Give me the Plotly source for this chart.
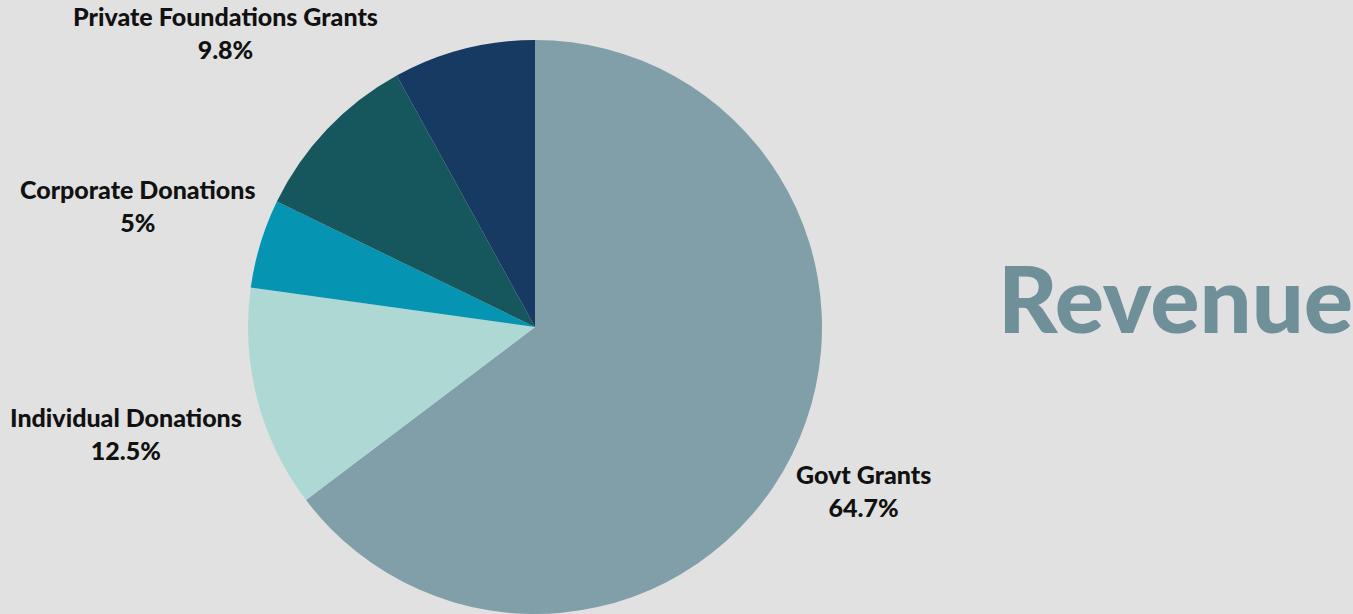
import math
import plotly.graph_objects as go

# ---- data ----
categories = ["Govt Grants", "Individual Donations", "Corporate Donations",
              "Private Foundations Grants", "Other"]
values = [64.7, 12.5, 5.0, 9.8, 8.0]
pct_labels = ["64.7%", "12.5%", "5%", "9.8%", ""]
show_label = [True, True, True, True, False]
colors = ["#819fa8", "#aed8d3", "#0595b2", "#16575e", "#173a63"]
title_text = "Revenue"

# ---- layout geometry ----
W, H = 1353, 614
cx, cy = 535, 327          # pie centre (px, from top-left)
R = 287                    # pie radius (px)
BG = "#e1e1e1"
FONT = "Lato Black, Lato Heavy, Lato, sans-serif"
LABEL_SIZE = 25

fig = go.Figure(go.Pie(
    labels=categories,
    values=values,
    marker=dict(colors=colors, line=dict(width=0)),
    sort=False,
    direction="clockwise",
    rotation=0,
    textinfo="none",
    hoverinfo="label+percent",
    showlegend=False,
    domain=dict(x=[(cx - R) / W, (cx + R) / W],
                y=[(H - cy - R) / H, (H - cy + R) / H]),
))

# labels placed radially outside each slice (computed from the data)
total = sum(values)
cum = 0.0
annotations = []
for name, v, pct, show in zip(categories, values, pct_labels, show_label):
    mid = (cum + v / 2) / total * 2 * math.pi
    cum += v
    if not show:
        continue
    sx, sy = math.sin(mid), math.cos(mid)          # sy positive = up
    half_w = max(len(name), len(pct)) * LABEL_SIZE * 0.5 / 2
    half_h = 18
    d = R + 10 + half_w * abs(sx) + half_h * abs(sy)
    px = cx + sx * d
    py_up = (H - cy) + sy * d
    annotations.append(dict(
        x=px / W, y=py_up / H, xref="paper", yref="paper",
        xanchor="center", yanchor="middle", showarrow=False,
        text=f"{name}<br>{pct}",
        align="center",
        font=dict(family=FONT, size=LABEL_SIZE, color="#111111", weight=900),
    ))

annotations.append(dict(
    x=1175 / W, y=1 - 297 / H, xref="paper", yref="paper",
    xanchor="center", yanchor="middle", showarrow=False,
    text=title_text,
    font=dict(family=FONT, size=92, color="#6f8f99", weight=900),
))

fig.update_layout(
    width=W, height=H,
    margin=dict(l=0, r=0, t=0, b=0),
    paper_bgcolor=BG, plot_bgcolor=BG,
    annotations=annotations,
)

fig.write_html(
    "out.html",
    config={"displayModeBar": False},
    post_script="document.body.style.margin='0';document.body.style.overflow='hidden';",
)
